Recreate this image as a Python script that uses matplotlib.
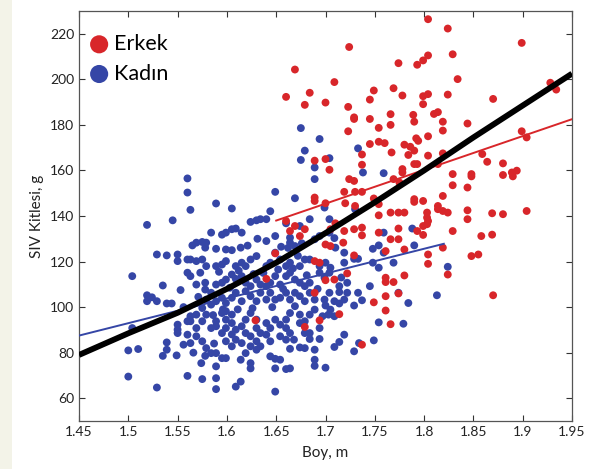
import matplotlib
matplotlib.use("Agg")
import matplotlib.pyplot as plt
import matplotlib.patches as patches

# Erkek (male) points: (boy m, SIV kitlesi g)
erkek = [
    (1.804, 226.4), (1.824, 222.3), (1.724, 214.2), (1.899, 216.0), (1.804, 210.5),
    (1.829, 211.0), (1.799, 208.3), (1.793, 206.4), (1.774, 207.1), (1.669, 204.3),
    (1.834, 200.1), (1.709, 198.8), (1.660, 192.3), (1.684, 194.1), (1.749, 195.1),
    (1.769, 196.1), (1.778, 192.9), (1.799, 192.6), (1.804, 193.5), (1.824, 193.3),
    (1.870, 191.4), (1.679, 188.8), (1.700, 189.8), (1.723, 187.9), (1.745, 191.1),
    (1.799, 189.1), (1.810, 184.8), (1.814, 185.6), (1.789, 184.4), (1.766, 184.7),
    (1.729, 183.3), (1.729, 182.6), (1.745, 182.6), (1.754, 178.7), (1.766, 180.0),
    (1.819, 181.4), (1.844, 180.6), (1.790, 181.4), (1.928, 198.5), (1.934, 195.5),
    (1.899, 177.2), (1.904, 174.5), (1.723, 177.2), (1.745, 171.6), (1.754, 172.6),
    (1.760, 172.0), (1.792, 174.1), (1.794, 173.0), (1.780, 171.3), (1.786, 170.4),
    (1.804, 175.0), (1.819, 177.5), (1.737, 167.0), (1.767, 167.9), (1.790, 168.7),
    (1.784, 166.8), (1.804, 166.5), (1.819, 167.5), (1.689, 164.3), (1.700, 165.0),
    (1.704, 160.3), (1.737, 162.5), (1.790, 162.8), (1.793, 162.8), (1.778, 160.6),
    (1.778, 159.1), (1.814, 162.8), (1.829, 158.4), (1.859, 167.2), (1.864, 163.8),
    (1.880, 163.1), (1.880, 158.0), (1.889, 159.1), (1.890, 157.4), (1.894, 159.9),
    (1.848, 158.4), (1.848, 157.4), (1.844, 152.5), (1.829, 153.5), (1.724, 156.2),
    (1.729, 155.4), (1.769, 156.2), (1.775, 154.7), (1.689, 148.1), (1.689, 146.6),
    (1.719, 150.6), (1.730, 150.6), (1.737, 150.6), (1.720, 145.6), (1.730, 144.4),
    (1.749, 147.7), (1.754, 145.2), (1.790, 147.4), (1.790, 146.2), (1.799, 146.6),
    (1.819, 148.8), (1.814, 144.4), (1.700, 145.6), (1.754, 140.3), (1.766, 141.5),
    (1.774, 141.5), (1.780, 141.5), (1.803, 141.5), (1.803, 139.3), (1.814, 143.0),
    (1.819, 142.2), (1.824, 141.5), (1.844, 142.5), (1.844, 138.6), (1.869, 141.2),
    (1.880, 140.8), (1.904, 142.2), (1.803, 136.4), (1.799, 135.6), (1.804, 137.8),
    (1.737, 134.9), (1.774, 134.5), (1.793, 133.4), (1.829, 133.4), (1.799, 131.7),
    (1.754, 132.7), (1.737, 131.5), (1.766, 129.8), (1.774, 129.8), (1.858, 131.2),
    (1.869, 131.8), (1.729, 134.2), (1.719, 133.4), (1.710, 136.8), (1.705, 134.2),
    (1.664, 133.4), (1.674, 131.2), (1.679, 134.2), (1.669, 135.6), (1.660, 137.8),
    (1.705, 126.8), (1.700, 127.5), (1.718, 128.3), (1.819, 126.1), (1.780, 125.3),
    (1.761, 124.6), (1.729, 122.7), (1.804, 123.1), (1.848, 122.4), (1.855, 123.1),
    (1.804, 119.0), (1.824, 114.3), (1.780, 113.9), (1.761, 112.9), (1.761, 111.0),
    (1.769, 111.0), (1.722, 114.8), (1.709, 112.1), (1.700, 111.8), (1.689, 120.2),
    (1.694, 119.5), (1.649, 123.6), (1.640, 112.4), (1.870, 105.2), (1.774, 106.0),
    (1.761, 104.8), (1.749, 102.1), (1.689, 106.3), (1.714, 96.9), (1.694, 94.2),
    (1.761, 98.5), (1.766, 92.5), (1.679, 91.3), (1.629, 94.2), (1.737, 83.5),
]

# Kadin (female) points: (boy m, SIV kitlesi g)
kadin = [
    (1.675, 178.6), (1.694, 173.8), (1.733, 169.7), (1.679, 168.7), (1.675, 164.6),
    (1.704, 165.4), (1.689, 161.3), (1.689, 156.2), (1.738, 159.1), (1.759, 158.8),
    (1.560, 156.5), (1.560, 150.3), (1.649, 150.6), (1.669, 147.8), (1.563, 142.7),
    (1.589, 145.5), (1.605, 143.3), (1.644, 142.1), (1.545, 138.1), (1.519, 136.1),
    (1.699, 143.7), (1.730, 143.0), (1.704, 138.6), (1.684, 138.6), (1.660, 136.8),
    (1.634, 138.6), (1.630, 138.1), (1.640, 138.6), (1.624, 137.4), (1.609, 134.5),
    (1.605, 134.2), (1.615, 132.7), (1.599, 132.7), (1.595, 131.8), (1.584, 132.7),
    (1.569, 128.3), (1.575, 128.6), (1.579, 128.3), (1.565, 127.1), (1.578, 126.1),
    (1.589, 125.6), (1.599, 125.3), (1.605, 125.0), (1.614, 126.1), (1.640, 129.0),
    (1.649, 131.2), (1.664, 130.5), (1.664, 128.3), (1.669, 126.8), (1.674, 135.6),
    (1.689, 129.8), (1.694, 131.2), (1.704, 132.7), (1.709, 130.3), (1.710, 126.1),
    (1.719, 123.9), (1.748, 125.6), (1.754, 127.1), (1.759, 123.9), (1.759, 132.7),
    (1.769, 119.5), (1.790, 127.1), (1.788, 134.5), (1.824, 117.7), (1.813, 105.2),
    (1.784, 101.8), (1.774, 106.3), (1.779, 92.7), (1.754, 93.3), (1.749, 85.4),
    (1.745, 109.2), (1.737, 103.0), (1.729, 100.7), (1.734, 84.2), (1.729, 80.6),
    (1.719, 87.9), (1.709, 82.5), (1.714, 84.7), (1.700, 73.4), (1.689, 76.9),
    (1.689, 74.2), (1.689, 81.3), (1.679, 82.0), (1.674, 82.3), (1.694, 86.0),
    (1.684, 86.0), (1.668, 85.7), (1.664, 81.7), (1.664, 73.1), (1.660, 72.8),
    (1.649, 73.1), (1.654, 76.9), (1.649, 77.3), (1.644, 78.4), (1.649, 62.9),
    (1.624, 73.1), (1.614, 67.3), (1.609, 65.1), (1.589, 64.0), (1.589, 68.8),
    (1.589, 74.0), (1.575, 68.4), (1.560, 69.8), (1.529, 64.7), (1.500, 69.5),
    (1.500, 81.0), (1.510, 81.6), (1.535, 78.6), (1.539, 81.3), (1.549, 78.8),
    (1.539, 84.5), (1.504, 90.8), (1.519, 105.2), (1.519, 102.6), (1.524, 104.3),
    (1.529, 102.6), (1.539, 101.6), (1.544, 101.6), (1.504, 113.6), (1.535, 109.5),
    (1.529, 123.1), (1.539, 122.7), (1.550, 123.1), (1.560, 120.9), (1.550, 120.2),
    (1.563, 120.9), (1.569, 120.2), (1.575, 120.9), (1.579, 118.0), (1.589, 118.0),
    (1.595, 118.7), (1.599, 120.2), (1.609, 118.0), (1.615, 119.5), (1.619, 118.0),
    (1.624, 120.9), (1.630, 122.4), (1.640, 118.0), (1.644, 119.5), (1.649, 123.9),
    (1.654, 120.9), (1.660, 118.0), (1.664, 119.5), (1.674, 118.0), (1.679, 120.9),
    (1.684, 120.9), (1.694, 118.0), (1.700, 119.5), (1.705, 117.3), (1.719, 119.5),
    (1.729, 121.2), (1.733, 121.2), (1.748, 119.5), (1.754, 117.3), (1.560, 115.1),
    (1.563, 113.6), (1.573, 115.1), (1.578, 110.7), (1.569, 109.9), (1.578, 107.7),
    (1.584, 106.3), (1.589, 109.9), (1.595, 110.7), (1.599, 112.1), (1.605, 114.3),
    (1.609, 112.4), (1.615, 113.6), (1.619, 110.7), (1.624, 109.2), (1.630, 112.1),
    (1.634, 109.9), (1.640, 109.2), (1.644, 110.7), (1.649, 113.6), (1.654, 109.9),
    (1.660, 113.6), (1.664, 115.1), (1.669, 112.1), (1.674, 110.7), (1.679, 109.2),
    (1.684, 110.7), (1.694, 115.1), (1.699, 112.9), (1.704, 115.1), (1.714, 109.2),
    (1.722, 110.7), (1.733, 106.3), (1.714, 106.6), (1.704, 106.3), (1.699, 103.3),
    (1.709, 102.6), (1.714, 101.6), (1.719, 103.3), (1.722, 106.3), (1.705, 98.9),
    (1.700, 100.7), (1.689, 103.3), (1.684, 106.3), (1.679, 102.6), (1.674, 104.8),
    (1.669, 106.3), (1.664, 103.3), (1.660, 106.3), (1.654, 104.1), (1.649, 103.3),
    (1.644, 106.3), (1.640, 103.3), (1.634, 106.3), (1.630, 102.6), (1.624, 104.8),
    (1.619, 107.0), (1.615, 102.6), (1.609, 106.3), (1.605, 104.1), (1.599, 101.8),
    (1.595, 104.1), (1.589, 102.6), (1.584, 101.1), (1.579, 103.3), (1.575, 99.6),
    (1.569, 96.7), (1.563, 96.0), (1.560, 93.8), (1.550, 92.3), (1.550, 90.1),
    (1.550, 88.6), (1.560, 87.9), (1.563, 93.8), (1.569, 90.8), (1.575, 93.8),
    (1.579, 96.7), (1.584, 90.8), (1.589, 93.8), (1.595, 97.4), (1.599, 98.2),
    (1.599, 94.5), (1.605, 96.7), (1.605, 93.0), (1.599, 90.8), (1.595, 88.6),
    (1.589, 91.6), (1.609, 90.1), (1.615, 91.6), (1.619, 94.5), (1.624, 97.4),
    (1.630, 94.5), (1.630, 90.8), (1.634, 88.6), (1.640, 93.0), (1.644, 90.8),
    (1.649, 94.5), (1.654, 92.3), (1.660, 94.5), (1.664, 97.4), (1.669, 100.4),
    (1.674, 96.7), (1.674, 93.0), (1.679, 93.8), (1.684, 96.7), (1.689, 98.9),
    (1.694, 90.8), (1.703, 96.7), (1.709, 96.0), (1.619, 88.6), (1.624, 87.2),
    (1.615, 84.2), (1.605, 82.8), (1.599, 77.6), (1.595, 77.6), (1.584, 79.8),
    (1.579, 82.0), (1.575, 85.0), (1.569, 87.2), (1.563, 84.2), (1.578, 78.6),
    (1.574, 75.4), (1.589, 79.8), (1.614, 76.9), (1.619, 79.8), (1.624, 82.8),
    (1.630, 81.3), (1.624, 75.4), (1.634, 82.8), (1.640, 87.9), (1.644, 85.0),
    (1.654, 87.2), (1.660, 90.8), (1.630, 85.0), (1.609, 85.7), (1.599, 85.0),
    (1.664, 88.6), (1.679, 88.6), (1.684, 88.6), (1.660, 85.7), (1.592, 115.5),
    (1.603, 108.5), (1.612, 116.0), (1.627, 114.5), (1.637, 115.0), (1.652, 116.5),
    (1.667, 117.0), (1.672, 122.5), (1.681, 114.0), (1.657, 108.0), (1.646, 100.0),
    (1.626, 99.5), (1.611, 99.0), (1.596, 99.0), (1.586, 96.5), (1.571, 104.5),
    (1.556, 100.0), (1.553, 107.5), (1.662, 126.0), (1.676, 128.0), (1.655, 126.5),
    (1.692, 108.0), (1.697, 96.0), (1.716, 113.0), (1.621, 127.0), (1.631, 130.0),
    (1.587, 84.0), (1.556, 83.5), (1.566, 80.0), (1.605, 88.0),
]

# regression lines and overall curve (boy, SIV)
erkek_fit = [(1.65, 138.0), (1.95, 182.5)]
kadin_fit = [(1.45, 87.5), (1.82, 127.8)]
genel_boy = [1.45, 1.50, 1.55, 1.60, 1.65, 1.70, 1.75, 1.80, 1.85, 1.90, 1.95]
genel_siv = [79.0, 88.5, 97.5, 108.0, 119.5, 132.5, 146.0, 160.0, 174.5, 188.5, 202.5]

x_ticks = [1.45, 1.5, 1.55, 1.6, 1.65, 1.7, 1.75, 1.8, 1.85, 1.9, 1.95]
x_labels = ['1.45', '1.5', '1.55', '1.6', '1.65', '1.7', '1.75', '1.8', '1.85', '1.9', '1.95']
y_ticks = [60, 80, 100, 120, 140, 160, 180, 200, 220]

red = '#d8262a'
blue = '#3546a6'

plt.rcParams['font.family'] = ['Lato', 'DejaVu Sans']

fig = plt.figure(figsize=(5.9, 4.69), dpi=100)
fig.add_artist(patches.Rectangle((0, 0), 12 / 590, 1, transform=fig.transFigure,
                                 facecolor='#f3f3e8', edgecolor='none'))
ax = fig.add_axes([79 / 590, 1 - 421 / 469, 493 / 590, 410 / 469])

kx, ky = zip(*kadin)
ex, ey = zip(*erkek)
ax.scatter(kx, ky, s=32, color=blue, edgecolors='none', zorder=2)
ax.scatter(ex, ey, s=32, color=red, edgecolors='none', zorder=3)

ax.plot(*zip(*kadin_fit), color=blue, lw=1.4, zorder=4)
ax.plot(*zip(*erkek_fit), color=red, lw=1.4, zorder=4)
ax.plot(genel_boy, genel_siv, color='black', lw=4.2, solid_capstyle='butt',
        solid_joinstyle='round', zorder=5)

# legend
ax.scatter([], [], s=170, color=red, edgecolors='none', label='Erkek')
ax.scatter([], [], s=170, color=blue, edgecolors='none', label='Kadın')
ax.legend(loc='upper left', frameon=False, fontsize=15.5, handletextpad=0.05,
          handlelength=1.3, borderaxespad=0.0, labelspacing=0.45,
          bbox_to_anchor=(-0.005, 0.965))

ax.set_xlim(1.45, 1.95)
ax.set_ylim(50, 230)
ax.set_xticks(x_ticks)
ax.set_xticklabels(x_labels)
ax.set_yticks(y_ticks)
ax.tick_params(direction='in', top=True, right=True, length=4, width=0.8,
               labelsize=10, colors='#333333', labelcolor='#222222')
for s in ax.spines.values():
    s.set_color('#555555')
    s.set_linewidth(0.9)

ax.set_xlabel('Boy, m', fontsize=11, color='#222222', labelpad=6)
ax.set_ylabel('SIV Kitlesi, g', fontsize=11, color='#222222', labelpad=4)

fig.savefig('out.png', dpi=100)
